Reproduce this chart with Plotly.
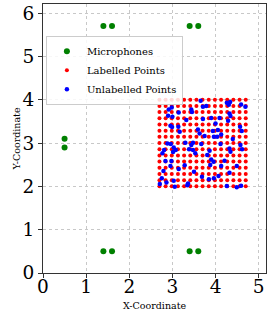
import numpy as np
import plotly.graph_objects as go

mic_x = [0.5, 0.5, 1.4, 1.6, 3.4, 3.6, 1.4, 1.6, 3.4, 3.6]
mic_y = [3.1, 2.9, 0.5, 0.5, 0.5, 0.5, 5.7, 5.7, 5.7, 5.7]

grid_x_vals = np.linspace(2.7, 4.7, 15)
grid_y_vals = np.linspace(2.0, 4.0, 15)
gx, gy = np.meshgrid(grid_x_vals, grid_y_vals)
lab_x = gx.ravel()
lab_y = gy.ravel()

unl_x = [3.654, 3.438, 3.454, 3.708, 3.785, 4.262, 4.308, 4.338, 4.592, 4.692,
         2.915, 2.985, 3.146, 2.900, 3.000, 3.323, 3.708, 3.900, 4.000, 4.092,
         4.323, 4.346, 4.292, 2.954, 2.992, 3.138, 3.169, 3.592, 3.631, 3.746,
         3.938, 4.054, 4.131, 3.962, 4.038, 4.569, 4.608, 4.400, 2.885, 2.962,
         2.808, 2.769, 3.031, 3.077, 3.015, 3.300, 3.477, 3.438, 3.385, 3.477,
         3.531, 3.669, 3.862, 3.808, 3.900, 4.115, 4.323, 4.346, 4.577, 4.615,
         2.838, 2.977, 2.954, 3.146, 3.285, 3.500, 3.685, 3.877, 3.954, 4.131,
         4.208, 4.323, 4.492, 2.792, 2.754, 2.708, 2.862, 3.031, 3.054, 3.362,
         3.346, 3.846, 3.962, 4.069, 4.262, 4.492, 4.592]
unl_y = [3.977, 3.777, 3.715, 3.838, 3.854, 3.931, 3.885, 3.946, 3.892, 3.838,
         3.777, 3.823, 3.708, 3.631, 3.608, 3.531, 3.554, 3.577, 3.454, 3.577,
         3.685, 3.623, 3.515, 3.400, 3.369, 3.377, 3.262, 3.315, 3.223, 3.162,
         3.277, 3.300, 3.200, 3.146, 3.146, 3.377, 3.277, 3.092, 2.992, 2.977,
         2.838, 2.762, 2.900, 2.838, 2.792, 3.008, 3.008, 2.954, 2.854, 2.838,
         2.762, 2.977, 2.823, 2.723, 2.623, 2.977, 2.877, 2.800, 2.954, 2.854,
         2.585, 2.585, 2.469, 2.400, 2.485, 2.338, 2.223, 2.492, 2.569, 2.469,
         2.592, 2.315, 2.469, 2.354, 2.185, 2.054, 2.092, 2.131, 1.992, 2.069,
         2.023, 2.162, 2.185, 2.238, 2.008, 1.977, 2.015]

tick_vals = [0, 1, 2, 3, 4, 5, 6]

font_family = "DejaVu Serif, Liberation Serif, serif"

fig = go.Figure()
fig.add_trace(go.Scatter(x=mic_x, y=mic_y, mode="markers", name="Microphones",
                         marker=dict(color="green", size=6)))
fig.add_trace(go.Scatter(x=lab_x, y=lab_y, mode="markers", name="Labelled Points",
                         marker=dict(color="red", size=4)))
fig.add_trace(go.Scatter(x=unl_x, y=unl_y, mode="markers", name="Unlabelled Points",
                         marker=dict(color="blue", size=4.5)))

axis_common = dict(
    showline=True, linecolor="#333333", linewidth=1, mirror=True,
    showgrid=True, gridcolor="#c8c8c8", griddash="dot", gridwidth=1,
    zeroline=False, ticks="outside", ticklen=4, tickcolor="#333333",
    tickfont=dict(family=font_family, size=18.5, color="black"),
    tickvals=tick_vals, automargin=False,
)

fig.update_layout(
    width=267, height=316,
    margin=dict(l=43, r=1, t=4, b=43),
    paper_bgcolor="white", plot_bgcolor="white",
    font=dict(family=font_family, color="black"),
    xaxis=dict(range=[0, 5.17], title=dict(text="X-Coordinate",
               font=dict(family=font_family, size=9.5), standoff=6),
               ticklabelstandoff=-7, **axis_common),
    yaxis=dict(range=[0, 6.21], title=dict(text="Y-Coordinate",
               font=dict(family=font_family, size=9.5), standoff=0), **axis_common),
    legend=dict(x=0.013, y=0.882, xanchor="left", yanchor="top",
                bgcolor="rgba(255,255,255,0.85)", bordercolor="#cccccc", borderwidth=1,
                font=dict(family=font_family, size=10), tracegroupgap=0,
                itemwidth=30),
    showlegend=True,
)

fig.write_html("out.html", config={"displayModeBar": False},
               post_script="document.body.style.margin='0';document.body.style.overflow='hidden';")
